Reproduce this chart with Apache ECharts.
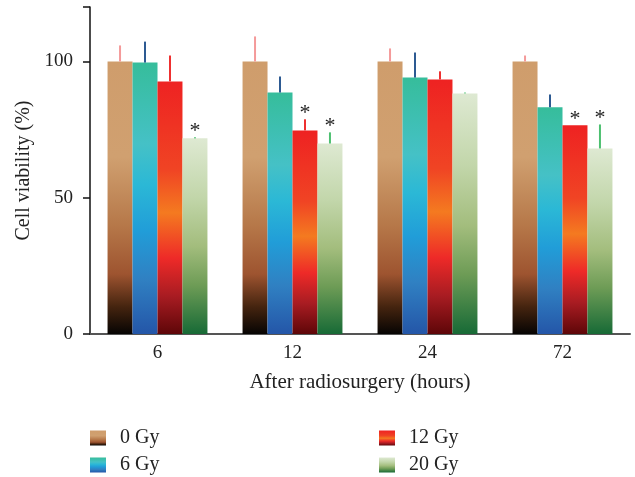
<!DOCTYPE html>
<html><head><meta charset="utf-8">
<script src="https://cdn.jsdelivr.net/npm/echarts@6/dist/echarts.min.js"></script>
<style>html,body{margin:0;padding:0;background:#fff}#c{width:635px;height:477px}</style>
</head><body><div id="c"></div>
<script>
var categories = ['6', '12', '24', '72'];
var seriesNames = ['0 Gy', '6 Gy', '12 Gy', '20 Gy'];
var gy0 = [100, 100, 100, 100];
var gy6 = [99.6, 88.6, 94.1, 83.2];
var gy12 = [92.7, 74.7, 93.4, 76.6];
var gy20 = [71.8, 69.9, 88.3, 68.1];
var err0 = [105.9, 109.2, 104.8, 102.2];
var err6 = [107.3, 94.5, 103.3, 87.9];
var err12 = [102.2, 78.8, 96.4, 76.6];
var err20 = [72.2, 74.0, 88.6, 76.9];
var sig12 = [false, true, false, true];
var sig20 = [true, true, false, true];
var yTicks = [0, 50, 100];

var values = [gy0, gy6, gy12, gy20];
var errs = [err0, err6, err12, err20];
var sigs = [[false,false,false,false],[false,false,false,false], sig12, sig20];
var errColors = ['#f49a9a', '#2d5a92', '#ee3030', '#4cc070'];
var FONT = 'Liberation Serif';

function grad(stops) {
  return {type: 'linear', x: 0, y: 0, x2: 0, y2: 1,
    colorStops: stops.map(function (s) { return {offset: s[0], color: s[1]}; })};
}
var fills = [
  grad([[0, '#cf9d6c'], [0.35, '#d0a070'], [0.6, '#b67849'], [0.78, '#9e5430'], [0.9, '#45240f'], [1, '#060403']]),
  grad([[0, '#36bd9b'], [0.3, '#45c1c6'], [0.45, '#2bb8d6'], [0.62, '#219dd8'], [0.8, '#3080c2'], [1, '#2456a8']]),
  grad([[0, '#ee2222'], [0.35, '#f04424'], [0.52, '#f47a20'], [0.7, '#ee2a28'], [0.85, '#a81c22'], [1, '#5e0608']]),
  grad([[0, '#dee9d2'], [0.3, '#c2d6aa'], [0.55, '#a3bd7d'], [0.75, '#6e9c56'], [1, '#176a36']])
];

var GAP = 0.26;
var series = [];
for (var s = 0; s < 4; s++) {
  series.push({
    name: seriesNames[s], type: 'bar', data: values[s],
    barCategoryGap: (GAP * 100) + '%', barGap: '0%',
    itemStyle: {color: fills[s]}, z: 2
  });
}
var errData = [];
for (var s2 = 0; s2 < 4; s2++) {
  for (var c = 0; c < categories.length; c++) {
    errData.push([c, values[s2][c], errs[s2][c], s2, sigs[s2][c] ? 1 : 0]);
  }
}
series.push({
  type: 'custom', name: 'err', data: errData, z: 5, silent: true,
  encode: {x: 0, y: [1, 2]},
  renderItem: function (params, api) {
    var c = api.value(0), v = api.value(1), e = api.value(2), si = api.value(3), sg = api.value(4);
    var band = api.size([1, 0])[0];
    var groupW = band * (1 - GAP);
    var bw = groupW / 4;
    var cx = api.coord([c, 0])[0] - groupW / 2 + bw * (si + 0.5);
    var yv = api.coord([c, v])[1];
    var ye = api.coord([c, e])[1];
    var children = [];
    if (ye < yv - 0.5) {
      children.push({type: 'line', shape: {x1: cx, y1: yv, x2: cx, y2: ye},
        style: {stroke: errColors[si], lineWidth: 2}});
    }
    if (sg) {
      children.push({type: 'text', style: {text: '*', x: cx, y: Math.min(ye, yv) + 5,
        textAlign: 'center', textVerticalAlign: 'bottom', fill: '#222',
        font: '22px "' + FONT + '"'}});
    }
    return {type: 'group', children: children};
  }
});

function leg(name, left, top) {
  return {data: [name], left: left, top: top, padding: 0,
    itemWidth: 16, itemHeight: 15, icon: 'rect',
    textStyle: {fontSize: 20, color: '#222', fontFamily: FONT, padding: [0, 0, 0, 9]}};
}

var chart = echarts.init(document.getElementById('c'));
chart.setOption({
  animation: false,
  textStyle: {fontFamily: FONT},
  grid: {left: 90, right: 5, top: 7, bottom: 143, containLabel: false},
  xAxis: {
    type: 'category', data: categories,
    name: 'After radiosurgery (hours)', nameLocation: 'middle', nameGap: 38,
    nameTextStyle: {fontSize: 21, color: '#222', fontFamily: FONT},
    axisLine: {lineStyle: {color: '#555', width: 2}},
    axisTick: {show: false},
    axisLabel: {fontSize: 19, color: '#222', margin: 10, fontFamily: FONT}
  },
  yAxis: {
    type: 'value', min: 0, max: 120, interval: 50,
    name: 'Cell viability (%)', nameLocation: 'middle', nameGap: 54, nameRotate: 90,
    nameTextStyle: {fontSize: 20, color: '#222', fontFamily: FONT},
    axisLine: {show: true, lineStyle: {color: '#111', width: 1.5}},
    axisTick: {show: true, inside: false, length: 7, lineStyle: {color: '#111', width: 1.5}},
    splitLine: {show: false},
    axisLabel: {fontSize: 19, color: '#222', margin: 17, fontFamily: FONT,
      formatter: function (v) { return yTicks.indexOf(v) >= 0 ? String(v) : ''; }}
  },
  legend: [
    leg(seriesNames[0], 90, 428),
    leg(seriesNames[1], 90, 455),
    leg(seriesNames[2], 379, 428),
    leg(seriesNames[3], 379, 455)
  ],
  series: series
});
</script></body></html>
